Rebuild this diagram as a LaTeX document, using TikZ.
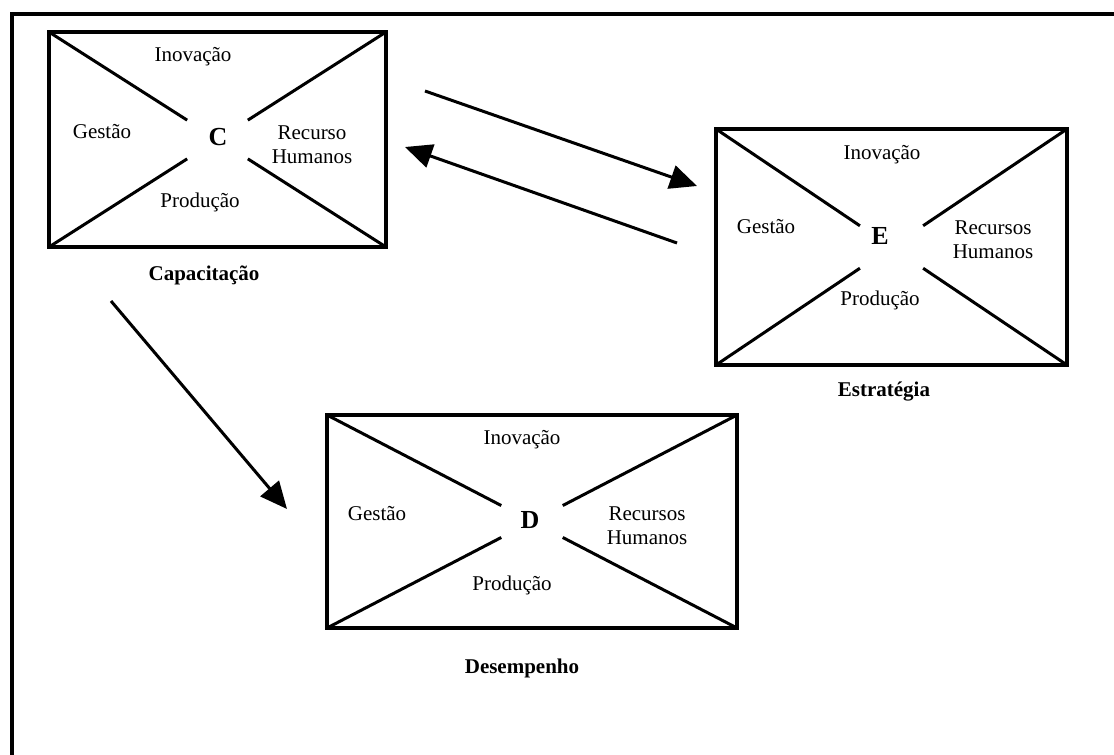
\documentclass[tikz,border=0pt]{standalone}
\usepackage{fontspec}
\setmainfont{Liberation Serif}
\usetikzlibrary{arrows.meta,calc}
\begin{document}
\begin{tikzpicture}[x=1pt,y=-1pt,
  frame/.style={line width=3.5pt},
  quad/.style={draw, line width=3.5pt, rectangle, inner sep=0pt, outer sep=0pt},
  diag/.style={line width=3pt},
  lbl/.style={font=\fontsize{21}{24}\selectfont, inner sep=0pt, align=center},
  ttl/.style={font=\fontsize{21}{24}\selectfont\bfseries, inner sep=0pt},
  letter/.style={font=\fontsize{26}{28}\selectfont\bfseries, inner sep=0pt},
  link/.style={line width=3pt, -{Triangle[length=27pt,width=24pt]}}
]
\useasboundingbox (0,0) rectangle (1114,755);
% page frame (left and top edges)
\draw[frame] (12,755) -- (12,14) -- (1114,14);

% the three quadrant boxes
\node[quad, minimum width=337pt, minimum height=215pt] (C) at (217.5,139.5) {};
\node[quad, minimum width=351pt, minimum height=236pt] (E) at (891.5,247) {};
\node[quad, minimum width=410pt, minimum height=213pt] (D) at (532,521.5) {};

% diagonals, broken around the centre letter
\foreach \b/\f in {C/0.82,E/0.82,D/0.85}
  \foreach \k in {north west,north east,south west,south east}
    \draw[diag] (\b.\k) -- ($(\b.\k)!\f!(\b.center)$);

% Capacitação
\node[letter] (Cl) at (218,137) {C};
\node[lbl] (Cino) at (193,57) {Inovação};
\node[lbl] (Cges) at (102,132) {Gestão};
\node[lbl] (Crh) at (312,145) {Recurso\\Humanos};
\node[lbl] (Cpro) at (200,202) {Produção};
\node[ttl] (Ct) at (204,275) {Capacitação};

% Estratégia
\node[letter] (El) at (880,236) {E};
\node[lbl] (Eino) at (882,155) {Inovação};
\node[lbl] (Eges) at (766,227) {Gestão};
\node[lbl] (Erh) at (993,240) {Recursos\\Humanos};
\node[lbl] (Epro) at (880,300) {Produção};
\node[ttl] (Et) at (884,392) {Estratégia};

% Desempenho
\node[letter] (Dl) at (530,520) {D};
\node[lbl] (Dino) at (522,440) {Inovação};
\node[lbl] (Dges) at (377,514) {Gestão};
\node[lbl] (Drh) at (647,526) {Recursos\\Humanos};
\node[lbl] (Dpro) at (512,585) {Produção};
\node[ttl] (Dt) at (522,668) {Desempenho};

% connecting arrows
\coordinate (ce0) at (425,91);
\coordinate (ce1) at (697,186);
\coordinate (ec0) at (677,243);
\coordinate (ec1) at (405,147);
\coordinate (cd0) at (111,301);
\coordinate (cd1) at (287,509);
\draw[link] (ce0) -- (ce1);
\draw[link] (ec0) -- (ec1);
\draw[link] (cd0) -- (cd1);
\end{tikzpicture}
\end{document}
